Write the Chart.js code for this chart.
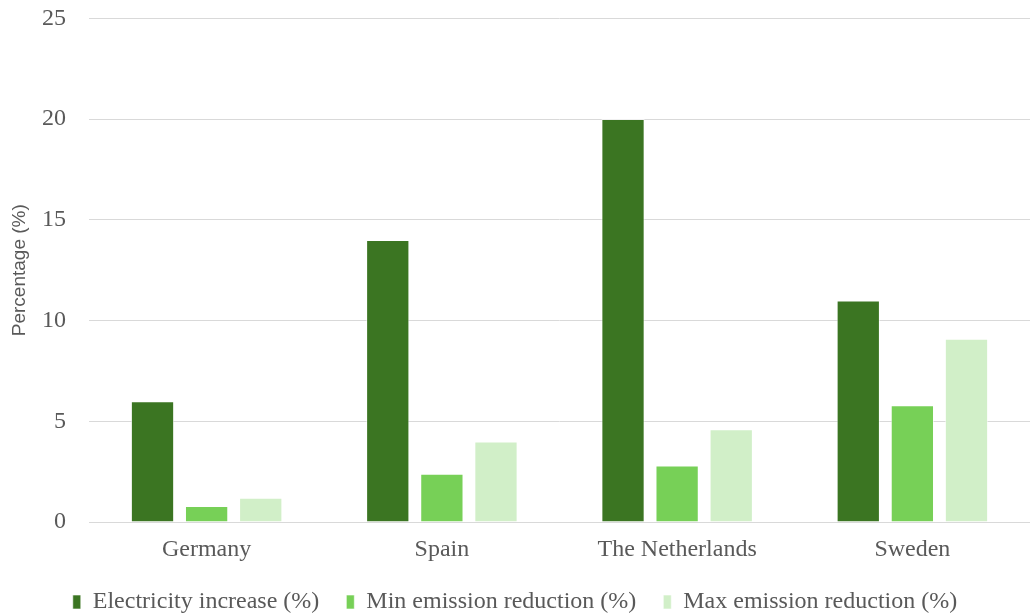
<!DOCTYPE html>
<html>
<head>
<meta charset="utf-8">
<script src="https://cdn.jsdelivr.net/npm/chart.js@4.4.1/dist/chart.umd.min.js"></script>
<style>
  html, body { margin: 0; padding: 0; background: #fff; }
  #wrap { width: 1030px; height: 616px; }
</style>
</head>
<body>
<div id="wrap"><canvas id="chart" width="1030" height="616"></canvas></div>
<script>
const countries = ['Germany', 'Spain', 'The Netherlands', 'Sweden'];
const electricityIncrease = [6, 14, 20, 11];
const minEmissionReduction = [0.8, 2.4, 2.8, 5.8];
const maxEmissionReduction = [1.2, 4.0, 4.6, 9.1];

const SERIF = "'Liberation Serif', 'Times New Roman', serif";
const GRAY = '#595959';
const GRID = '#d9d9d9';

Chart.defaults.font.family = SERIF;
Chart.defaults.color = GRAY;

const mkSet = (label, data, color) => ({
    label, data,
    backgroundColor: color,
    borderColor: 'rgba(255,255,255,0.6)',
    borderWidth: 1,
    categoryPercentage: 0.69,
    barPercentage: 0.8
});

new Chart(document.getElementById('chart'), {
    type: 'bar',
    data: {
        labels: countries,
        datasets: [
            mkSet('Electricity increase (%)', electricityIncrease, '#3b7522'),
            mkSet('Min emission reduction (%)', minEmissionReduction, '#77d057'),
            mkSet('Max emission reduction (%)', maxEmissionReduction, '#d1efc8')
        ]
    },
    options: {
        responsive: false,
        animation: false,
        layout: { padding: 0 },
        plugins: {
            tooltip: { enabled: false },
            legend: {
                position: 'bottom',
                maxHeight: 53,
                labels: {
                    boxWidth: 8,
                    boxHeight: 14,
                    padding: 27,
                    color: GRAY,
                    font: { family: SERIF, size: 24 }
                }
            }
        },
        scales: {
            x: {
                grid: { display: false },
                border: { display: true, color: GRID },
                ticks: { color: GRAY, font: { family: SERIF, size: 24 }, padding: 5 },
                afterFit: (s) => { s.height = 41; }
            },
            y: {
                min: 0, max: 25,
                ticks: { stepSize: 5, color: GRAY, font: { family: SERIF, size: 24 }, padding: 4 },
                grid: { color: GRID, drawTicks: true, tickLength: 19, tickColor: 'rgba(0,0,0,0)' },
                border: { display: false },
                title: {
                    display: true,
                    text: 'Percentage (%)',
                    color: GRAY,
                    font: { family: "'Liberation Sans', Arial, sans-serif", size: 19 },
                    padding: { top: 8, bottom: 0 }
                },
                afterFit: (s) => { s.width = 89; }
            }
        }
    }
});
</script>
</body>
</html>
